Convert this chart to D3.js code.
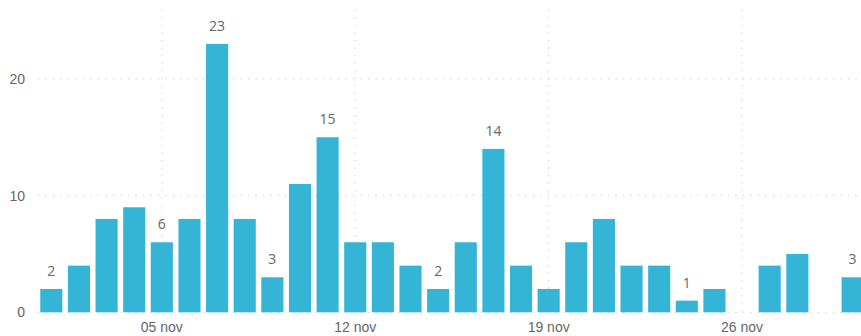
<!DOCTYPE html>
<meta charset="utf-8">
<style>
body { margin: 0; background: #fff; }
svg { font-family: "Open Sans", "Noto Sans", sans-serif; }
.grid line { stroke: #c8c8c8; stroke-dasharray: 1.2,6.3; }
.axis path, .axis line { display: none; }
.axis text { fill: #666; font-size: 14px; }
.lbl { fill: #666; font-size: 14px; }
</style>
<svg width="861" height="336"></svg>
<script src="https://d3js.org/d3.v7.min.js"></script>
<script>

var days = [1,2,3,4,5,6,7,8,9,10,11,12,13,14,15,16,17,18,19,20,21,22,23,24,25,26,27,28,29,30];
var counts = [2,4,8,9,6,8,23,8,3,11,15,6,6,4,2,6,14,4,2,6,8,4,4,1,2,0,4,5,0,3];
var labelDays = [1,5,7,9,11,15,17,24,30];
var tickDays = [5,12,19,26];
var tickLabels = ["05 nov","12 nov","19 nov","26 nov"];
var yTicks = [0,10,20];

var svg = d3.select("svg");

var x = d3.scaleBand().domain(days).range([37.5, 866.4]).paddingInner(0.2).paddingOuter(0.1);
var y = d3.scaleLinear().domain([0, 25]).range([312.3, 312.3 - 25 * 11.67]);

// gridlines
var grid = svg.append("g").attr("class", "grid");
grid.selectAll(".h")
  .data(yTicks)
  .enter().append("line")
    .attr("x1", 38).attr("x2", 861)
    .attr("y1", function(d) { return y(d); })
    .attr("y2", function(d) { return y(d); });
grid.selectAll(".v")
  .data(tickDays)
  .enter().append("line")
    .attr("x1", function(d) { return x(d) + x.bandwidth() / 2; })
    .attr("x2", function(d) { return x(d) + x.bandwidth() / 2; })
    .attr("y1", 10).attr("y2", y(0));

svg.selectAll(".bar")
  .data(days)
  .enter().append("rect")
    .attr("class", "bar")
    .attr("fill", "#35b5d6")
    .attr("x", function(d) { return x(d); })
    .attr("width", x.bandwidth())
    .attr("y", function(d, i) { return y(counts[i]); })
    .attr("height", function(d, i) { return y(0) - y(counts[i]); });

svg.selectAll(".lbl")
  .data(labelDays)
  .enter().append("text")
    .attr("class", "lbl")
    .attr("text-anchor", "middle")
    .attr("x", function(d) { return x(d) + x.bandwidth() / 2; })
    .attr("y", function(d) { return y(counts[d - 1]) - 13; })
    .text(function(d) { return counts[d - 1]; });

svg.append("g")
    .attr("class", "axis")
    .attr("transform", "translate(0," + y(0) + ")")
    .call(d3.axisBottom(x).tickValues(tickDays).tickSize(0).tickPadding(10)
      .tickFormat(function(d) { return tickLabels[tickDays.indexOf(d)]; }));

svg.append("g")
    .attr("class", "axis")
    .attr("transform", "translate(25,0)")
    .call(d3.axisLeft(y).tickValues(yTicks).tickSize(0).tickPadding(0));

</script>
